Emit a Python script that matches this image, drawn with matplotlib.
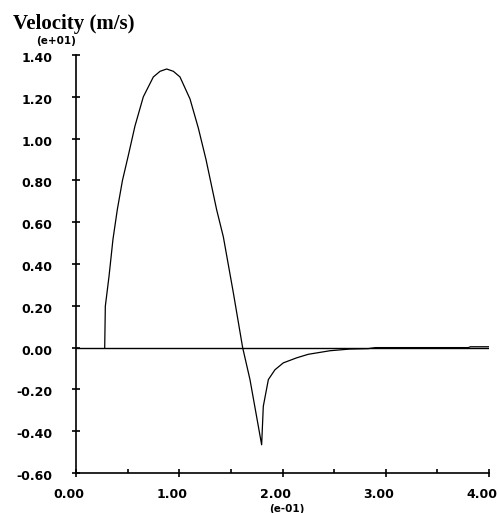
import matplotlib
matplotlib.use("Agg")
import matplotlib.pyplot as plt
import matplotlib.transforms as mtransforms
from matplotlib.ticker import MultipleLocator

# Values as displayed (x in e-01 units, y in e+01 units)
time_x = [0.278, 0.284, 0.320, 0.358, 0.400, 0.450, 0.507, 0.571, 0.652, 0.749,
          0.814, 0.878, 0.943, 1.007, 1.104, 1.185, 1.259, 1.362, 1.427, 1.524,
          1.614, 1.685, 1.743, 1.798, 1.814, 1.863, 1.927, 2.008, 2.137, 2.25,
          2.46, 2.65, 2.83, 2.90, 3.80, 3.82, 4.00]
velocity_y = [0.0, 0.198, 0.342, 0.518, 0.660, 0.800, 0.920, 1.060, 1.200, 1.295,
              1.322, 1.333, 1.322, 1.295, 1.190, 1.050, 0.900, 0.660, 0.530, 0.262,
              0.0, -0.153, -0.313, -0.465, -0.281, -0.153, -0.106, -0.073, -0.049, -0.032,
              -0.015, -0.007, -0.005, 0.0, 0.0, 0.004, 0.004]

x_ticks = [0.0, 1.0, 2.0, 3.0, 4.0]
x_tick_labels = ["0.00", "1.00", "2.00", "3.00", "4.00"]
y_ticks = [-0.6, -0.4, -0.2, 0.0, 0.2, 0.4, 0.6, 0.8, 1.0, 1.2, 1.4]
y_tick_labels = ["-0.60", "-0.40", "-0.20", "0.00", "0.20", "0.40", "0.60",
                 "0.80", "1.00", "1.20", "1.40"]

W, H = 499, 513
fig = plt.figure(figsize=(W / 100, H / 100), dpi=100)
ax = fig.add_axes([76 / W, 1 - 473 / H, (489 - 76) / W, (473 - 55) / H])

ax.plot(time_x, velocity_y, color="black", lw=0.9)
ax.axhline(0, color="black", lw=1.0)

ax.set_xlim(0, 4)
ax.set_ylim(-0.6, 1.4)
for s in ["top", "right"]:
    ax.spines[s].set_visible(False)
for s in ["left", "bottom"]:
    ax.spines[s].set_linewidth(1.2)

ax.set_xticks(x_ticks)
ax.set_xticklabels(x_tick_labels)
ax.xaxis.set_minor_locator(MultipleLocator(0.5))
ax.set_yticks(y_ticks)
ax.set_yticklabels(y_tick_labels)

ax.tick_params(axis="both", which="major", direction="inout", length=6, width=1.2,
               labelsize=9)
ax.tick_params(axis="x", which="minor", direction="in", length=3, width=1.2)
ax.tick_params(axis="y", which="major", pad=14)
ax.tick_params(axis="x", which="major", pad=8)
for lab in ax.get_xticklabels() + ax.get_yticklabels():
    lab.set_fontweight("bold")
    lab.set_fontfamily("DejaVu Sans")

off = mtransforms.ScaledTranslation(-7 / 100, 0, fig.dpi_scale_trans)
for lab in ax.get_xticklabels():
    lab.set_transform(lab.get_transform() + off)
offy = mtransforms.ScaledTranslation(0, -2 / 100, fig.dpi_scale_trans)
for lab in ax.get_yticklabels():
    lab.set_transform(lab.get_transform() + offy)

fig.text(13 / W, 1 - 29 / H, "Velocity (m/s)", fontsize=15, fontweight="bold",
         family="Liberation Serif", ha="left", va="baseline")
fig.text(56 / W, 1 - 41 / H, "(e+01)", fontsize=7.5, fontweight="bold",
         family="DejaVu Sans", ha="center", va="center")
fig.text(287 / W, 1 - 509 / H, "(e-01)", fontsize=7.5, fontweight="bold",
         family="DejaVu Sans", ha="center", va="center")

fig.savefig("out.png", dpi=100)
